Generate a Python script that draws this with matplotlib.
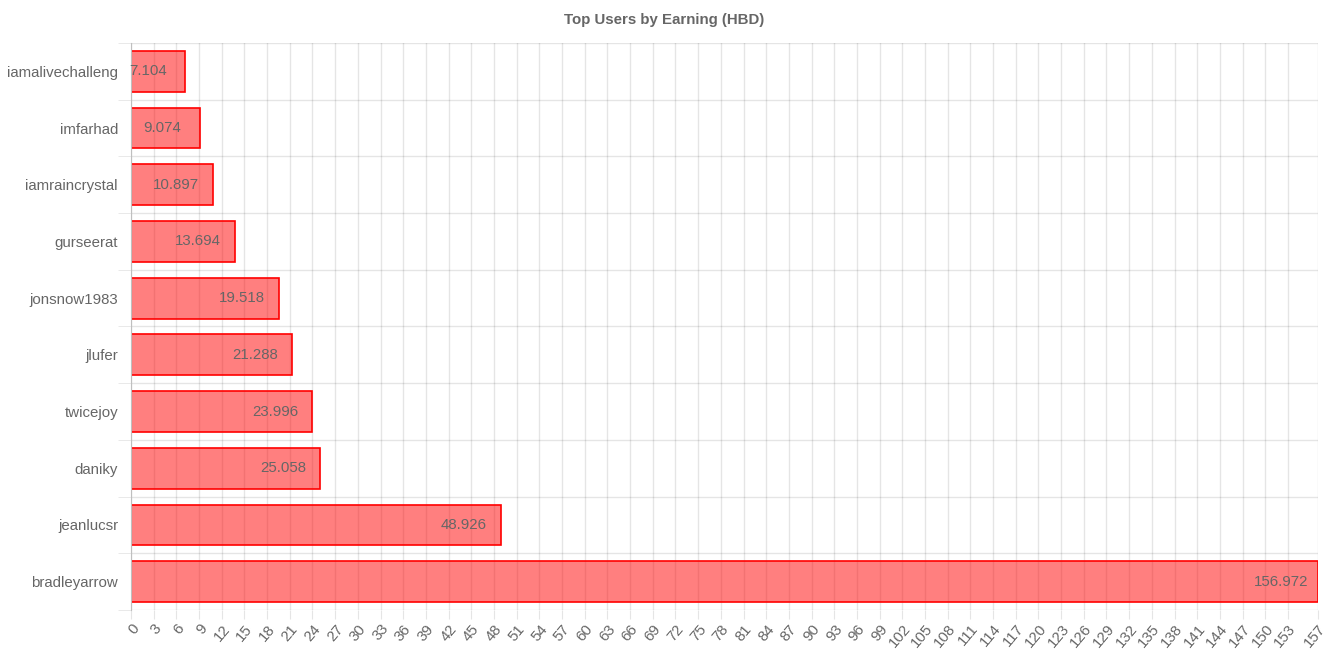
import numpy as np
import matplotlib
matplotlib.use("Agg")
import matplotlib.pyplot as plt

# data (top to bottom as shown)
users = ["iamalivechalleng", "imfarhad", "iamraincrystal", "gurseerat", "jonsnow1983",
         "jlufer", "twicejoy", "daniky", "jeanlucsr", "bradleyarrow"]
earnings = [7.104, 9.074, 10.897, 13.694, 19.518, 21.288, 23.996, 25.058, 48.926, 156.972]

TEXT = "#666666"
GRID = "#e5e5e5"
PX = 0.72  # points per pixel at dpi 100

plt.rcParams["font.family"] = ["Liberation Sans", "DejaVu Sans"]

fig = plt.figure(figsize=(13.27, 6.63), dpi=100)
ax = fig.add_axes([131 / 1327, 1 - 610 / 663, (1318 - 131) / 1327, (610 - 43) / 663])

n = len(users)
ypos = np.arange(n)
ax.barh(ypos, earnings, height=0.72, color=(1, 0, 0, 0.5), edgecolor="red", linewidth=1.2, zorder=3)

xmax = max(earnings)
ax.set_xlim(0, xmax)
ax.set_ylim(n - 0.5, -0.5)

# x ticks every 3 plus the data max
xt = list(np.arange(0, 154, 3)) + [xmax]
ax.set_xticks(xt)
ax.set_xticklabels([f"{v:.0f}" for v in xt], rotation=50, ha="right", rotation_mode="anchor",
                   fontsize=10.8, color=TEXT)
ax.tick_params(axis="x", length=9 * PX, color=GRID, pad=2)
ax.grid(axis="x", color="black", alpha=0.1, linewidth=1, zorder=0)

# y: labels at centers, gridlines at category boundaries
ax.set_yticks(ypos)
ax.set_yticklabels(users, fontsize=10.8, color=TEXT)
ax.tick_params(axis="y", which="major", length=0, pad=13 * PX)
ax.set_yticks(np.arange(-0.5, n, 1), minor=True)
ax.tick_params(axis="y", which="minor", length=13 * PX, color=GRID)
ax.grid(axis="y", which="minor", color="black", alpha=0.1, linewidth=1, zorder=0)

for s in ["top", "right", "bottom"]:
    ax.spines[s].set_visible(False)
ax.spines["left"].set_color("#bfbfbf")
ax.spines["left"].set_zorder(4)

# value labels near bar end
for y, v in zip(ypos, earnings):
    ax.annotate(f"{v:.3f}", xy=(v, y), xytext=(-37, 0), textcoords="offset pixels",
                ha="center", va="center", fontsize=10.8, color=TEXT, zorder=5,
                annotation_clip=False)

fig.text(664 / 1327, 1 - 20 / 663, "Top Users by Earning (HBD)", ha="center", va="center",
         fontsize=10.8, fontweight="bold", color=TEXT)

fig.savefig("out.png", dpi=100)
